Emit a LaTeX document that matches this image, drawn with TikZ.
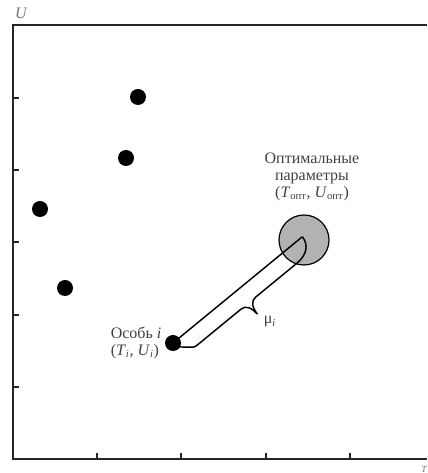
\documentclass[tikz,border=0pt]{standalone}
\usepackage{fontspec}
\setmainfont{Liberation Serif}
\usepackage{tikz}
\usetikzlibrary{positioning}

\begin{document}
\begin{tikzpicture}[x=0.75pt, y=0.75pt,
    axis/.style={line width=1.1pt, black!85},
    individual/.style={circle, fill=black, inner sep=0pt, minimum size=12pt},
    optimum/.style={circle, draw, line width=0.9pt, fill=black!30, inner sep=0pt, minimum size=37.5pt},
    note/.style={text=black!75, font=\fontsize{12}{12.7}\selectfont, align=center},
    tube/.style={line width=1.1pt, line join=round}
  ]
  \useasboundingbox (0,0) rectangle (427,473);

  % axes
  \coordinate (O) at (13,14);
  \coordinate (Utop) at (13,448);
  \coordinate (Rtop) at (427,448);
  \coordinate (Tend) at (427,14);
  \draw[axis] (Tend) -- (O) -- (Utop) -- (Rtop);
  \foreach \y in {86,158,231,303,375}
    \draw[axis] (13,\y) -- ++(6,0);
  \foreach \x in {97,181,266,350}
    \draw[axis] (\x,14) -- ++(0,6);
  \node[note, font=\large\itshape, text=black!55] (ulab) at (21,460) {U};
  \node[note, font=\scriptsize\itshape, text=black!55] (tlab) at (424,4) {T};

  % population
  \node[individual] (p1) at (138,376) {};
  \node[individual] (p2) at (126,315) {};
  \node[individual] (p3) at (40,264) {};
  \node[individual] (p4) at (65,185) {};

  % optimum
  \node[optimum] (opt) at (304,233) {};
  \node[note] (optlab) at (312,296) {Оптимальные\\параметры\\(\textit{T}\textsubscript{опт}, \textit{U}\textsubscript{опт})};

  % distance
  \coordinate (osob) at (173,130);
  \coordinate (tip) at (302,236);
  \draw[tube] (osob) -- (tip);
  \begin{scope}[shift={(osob)}, rotate=39.4]
    \draw[tube] (0,-5) -- (11,-14.5) .. controls (13,-16.5) .. (17,-17) -- (74,-17)
      .. controls (80,-17) and (83,-22) .. (83.5,-31)
      .. controls (84,-22) and (87,-17) .. (93,-17) -- (146,-17)
      .. controls (160,-17) and (167,-10) .. (167.5,0);
  \end{scope}
  \node[individual] (pi) at (osob) {};
  \node[note, align=left, anchor=east] (pilab) at ([xshift=1pt]pi.west) {Особь \textit{i}\\(\textit{T}\textsubscript{\textit{i}}, \textit{U}\textsubscript{\textit{i}})};
  \node[note] (mu) at (270,151) {μ\textsubscript{\textit{i}}};
\end{tikzpicture}
\end{document}
